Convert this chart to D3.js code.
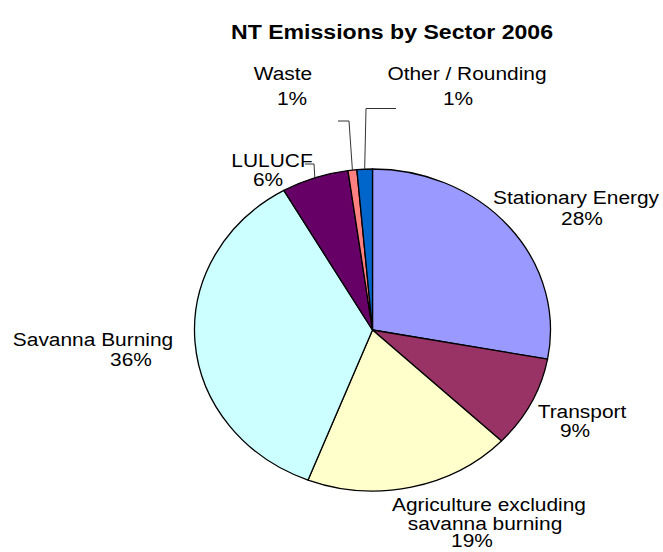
<!DOCTYPE html>
<html>
<head>
<meta charset="utf-8">
<script src="https://cdn.jsdelivr.net/npm/d3@7/dist/d3.min.js"></script>
<style>
  html, body { margin: 0; padding: 0; background: #ffffff; }
  svg { display: block; }
  text { font-family: "Liberation Sans", Arial, sans-serif; fill: #000; }
</style>
</head>
<body>
<svg id="chart" width="663" height="552"></svg>
<script>
// ---------- data ----------
const title = "NT Emissions by Sector 2006";
const categories = [
  "Stationary Energy",
  "Transport",
  "Agriculture excluding savanna burning",
  "Savanna Burning",
  "LULUCF",
  "Waste",
  "Other / Rounding"
];
const values = [27.9, 9.2, 18.8, 35.8, 6.1, 0.8, 1.4];
const colors = ["#9999FF", "#993366", "#FFFFCC", "#CCFFFF", "#660066", "#FF8080", "#0066CC"];

// ---------- layout (positions only) ----------
const W = 663, H = 552;
const cx = 372.5, cy = 330, rx = 178, ry = 161;
const labelLayout = [
  { x: 576, y: 204, px: 582, py: 225 },
  { x: 582, y: 418, px: 575, py: 437 },
  { x: 489, y: 511, px: 472, py: 547, lx: [489, 485], lh: 18.5 },
  { x: 93,  y: 346, px: 131, py: 366 },
  { x: 272, y: 167, px: 268, py: 186 },
  { x: 283, y: 80,  px: 292, py: 105 },
  { x: 467, y: 80,  px: 458, py: 105 }
];
labelLayout[4].leader = [[314, 164], [305, 164]];
labelLayout[5].leader = [[349, 121], [338, 121]];
labelLayout[6].leader = [[366, 108.5], [396, 108.5]];

const svg = d3.select("#chart");
const total = d3.sum(values);
const pct = d3.format(".0%");

// title
svg.append("text")
  .attr("transform", `translate(${392},${39}) scale(1.1,1)`)
  .attr("text-anchor", "middle")
  .style("font-size", "21px")
  .style("font-weight", "bold")
  .text(title);

const data = categories.map((c, i) => ({ name: c, value: values[i], color: colors[i], i }));
const pie = d3.pie().value(d => d.value).sort(null);
const arcs = pie(data);
const arc = d3.arc().innerRadius(0).outerRadius(ry);

const g = svg.append("g").attr("transform", `translate(${cx},${cy}) scale(${rx / ry},1)`);
g.selectAll("path")
  .data(arcs)
  .join("path")
  .attr("d", arc)
  .attr("fill", d => d.data.color)
  .attr("stroke", "#000")
  .attr("stroke-width", 1.3)
  .attr("vector-effect", "non-scaling-stroke")
  .attr("stroke-linejoin", "round");

// wrap names at ~22 chars
function wrap(s, max) {
  const words = s.split(" ");
  const lines = [];
  let cur = "";
  words.forEach(w => {
    const t = cur ? cur + " " + w : w;
    if (t.length > max && cur) { lines.push(cur); cur = w; } else cur = t;
  });
  if (cur) lines.push(cur);
  return lines;
}

// leader lines
arcs.forEach((a, i) => {
  const L = labelLayout[i];
  if (!L.leader) return;
  const m = (a.startAngle + a.endAngle) / 2;
  const edge = [cx + rx * Math.sin(m), cy - ry * Math.cos(m)];
  svg.append("path")
    .attr("d", d3.line()([edge, ...L.leader]))
    .attr("fill", "none")
    .attr("stroke", "#333")
    .attr("stroke-width", 1);
});

// labels
arcs.forEach((a, i) => {
  const L = labelLayout[i];
  const lines = wrap(a.data.name, 22);
  lines.forEach((ln, k) => {
    const x = L.lx ? L.lx[k] : L.x;
    svg.append("text")
      .attr("transform", `translate(${x},${L.y + k * (L.lh || 18)}) scale(1.1,1)`)
      .attr("text-anchor", "middle")
      .style("font-size", "19px")
      .text(ln);
  });
  svg.append("text")
    .attr("transform", `translate(${L.px},${L.py}) scale(1.1,1)`)
    .attr("text-anchor", "middle")
    .style("font-size", "19px")
    .text(pct(a.data.value / total));
});
</script>
</body>
</html>
